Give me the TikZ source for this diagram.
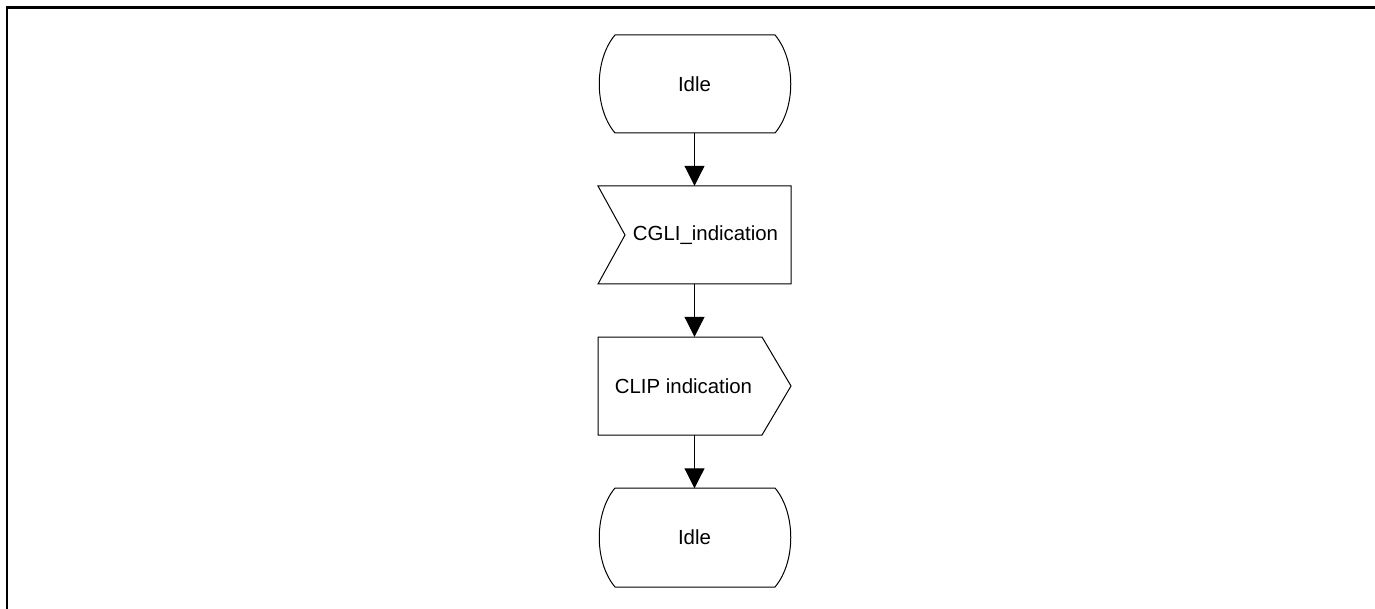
\documentclass[tikz,border=0pt]{standalone}
\usepackage{fontspec}
\setmainfont{Liberation Sans}
\usetikzlibrary{arrows.meta}
\begin{document}
\begin{tikzpicture}[x=1pt,y=-1pt,
  lbl/.style={font=\fontsize{20.4}{24}\selectfont, inner sep=0pt},
  blk/.style={draw=none, minimum width=193pt, minimum height=98pt, inner sep=0pt},
  outl/.style={line width=1pt},
  conn/.style={line width=1pt, -{Triangle[width=20pt,length=20pt]}}]
\useasboundingbox (0,0) rectangle (1375,609);
\draw[line width=2.5pt] (7,609) -- (7,7.5) -- (1375,7.5);
% blocks
\node[blk] (s1) at (694.5,84) {};
\node[blk] (r1) at (694.5,235) {};
\node[blk] (o1) at (694.5,386) {};
\node[blk] (s2) at (694.5,537.5) {};
% Idle top
\draw[outl] (615,35) -- (775,35) .. controls (796,60) and (796,108) .. (775,133)
  -- (615,133) .. controls (594,108) and (594,60) .. (615,35) -- cycle;
\node[lbl] at (s1) {Idle};
% CGLI input
\draw[outl] (598,186) -- (791,186) -- (791,284) -- (598,284) -- (625,235) -- cycle;
\node[lbl] at (705.5,235) {CGLI\_indication};
% CLIP output
\draw[outl] (598,337) -- (762,337) -- (791,386) -- (762,435) -- (598,435) -- cycle;
\node[lbl] at (683.5,386) {CLIP indication};
% Idle bottom
\draw[outl] (615,488) -- (775,488) .. controls (796,513) and (796,562) .. (775,587)
  -- (615,587) .. controls (594,562) and (594,513) .. (615,488) -- cycle;
\node[lbl] at (s2) {Idle};
% connectors
\draw[conn] (s1.south) -- (r1.north);
\draw[conn] (r1.south) -- (o1.north);
\draw[conn] (o1.south) -- (s2.north);
\end{tikzpicture}
\end{document}
